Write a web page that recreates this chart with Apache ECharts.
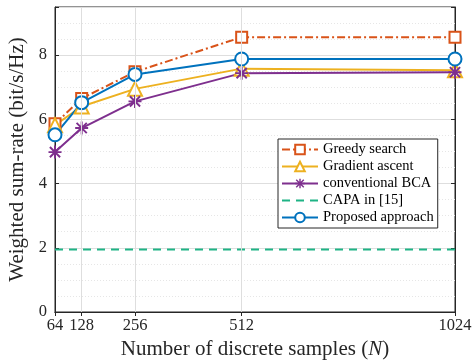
<!DOCTYPE html>
<html>
<head>
<meta charset="utf-8">
<script src="https://cdn.jsdelivr.net/npm/echarts@6/dist/echarts.min.js"></script>
<style>
  html, body { margin: 0; padding: 0; background: #fff; }
  #chart { width: 474px; height: 360px; }
</style>
</head>
<body>
<div id="chart"></div>
<script>
// data
var samples = [64, 128, 256, 512, 1024];
var greedy = [5.86, 6.65, 7.48, 8.56, 8.56];
var gradient = [5.82, 6.4, 6.95, 7.58, 7.53];
var bca = [4.98, 5.73, 6.56, 7.44, 7.47];
var capa = [1.95, 1.95, 1.95, 1.95, 1.95];
var proposed = [5.52, 6.52, 7.4, 7.88, 7.88];
var xTicks = [64, 128, 256, 512, 1024];
var xMajorGrid = [128, 256, 512];
var yTicks = [0, 2, 4, 6, 8];

var font = '"Liberation Serif", "Times New Roman", serif';
var asterisk = 'path://M8.5 0L11.5 0L11.5 20L8.5 20Z M0 8.5L20 8.5L20 11.5L0 11.5Z M3.2 1.1L18.9 16.8L16.8 18.9L1.1 3.2Z M16.8 1.1L18.9 3.2L3.2 18.9L1.1 16.8Z';

function pairs(ys) {
  return samples.map(function (x, i) { return [x, ys[i]]; });
}

var chart = echarts.init(document.getElementById('chart'));
var option = {
  animation: false,
  textStyle: { fontFamily: font },
  grid: {
    left: 55, right: 19, top: 7, bottom: 48, outerBoundsMode: 'none',
    show: true, borderColor: '#262626', borderWidth: 1
  },
  legend: {
    data: ['Greedy search', 'Gradient ascent', 'conventional BCA',
      { name: 'CAPA in [15]', itemStyle: { opacity: 0 } }, 'Proposed approach'],
    orient: 'vertical',
    left: 278, top: 139,
    itemWidth: 36, itemHeight: 12, itemGap: 2,
    padding: [3, 4, 3, 3],
    backgroundColor: '#fff',
    borderColor: '#262626', borderWidth: 1,
    textStyle: { fontFamily: font, fontSize: 14.5, color: '#000', lineHeight: 15 }
  },
  xAxis: [{
    type: 'value', min: 64, max: 1024, interval: 64,
    name: 'Number of discrete samples ({i|N})',
    nameLocation: 'middle', nameGap: 27,
    nameTextStyle: { fontFamily: font, fontSize: 21, color: '#262626', rich: { i: { fontStyle: 'italic', fontFamily: font, fontSize: 21 } } },
    axisLine: { lineStyle: { color: '#262626', width: 1 } },
    axisTick: { show: true, inside: true, length: 4, customValues: xTicks, lineStyle: { color: '#262626' } },
    axisLabel: {
      fontFamily: font, fontSize: 16.5, color: '#262626', margin: 5,
      formatter: function (v) { return xTicks.indexOf(v) >= 0 ? String(v) : ''; }
    },
    splitLine: { show: true, lineStyle: { color: '#e6e6e6', type: [1, 2] } }
  }, {
    type: 'value', min: 64, max: 1024, interval: 64, position: 'top',
    axisLine: { show: true, lineStyle: { color: '#262626', width: 1 } },
    axisTick: { show: true, inside: true, length: 4, customValues: xTicks, lineStyle: { color: '#262626' } },
    axisLabel: { show: false },
    splitLine: { show: false }
  }],
  yAxis: [{
    type: 'value', min: 0, max: 9.5, interval: 2,
    name: 'Weighted sum-rate (bit/s/Hz)',
    nameLocation: 'middle', nameGap: 24,
    nameTextStyle: { fontFamily: font, fontSize: 21, color: '#262626' },
    axisLine: { show: true, lineStyle: { color: '#262626', width: 1 } },
    axisTick: { show: true, inside: true, length: 4, lineStyle: { color: '#262626' } },
    axisLabel: {
      fontFamily: font, fontSize: 16.5, color: '#262626', margin: 8,
      formatter: function (v) { return yTicks.indexOf(v) >= 0 ? String(v) : ''; }
    },
    splitLine: { show: true, lineStyle: { color: '#dedede' } },
    minorTick: { show: false, splitNumber: 4 },
    minorSplitLine: { show: true, lineStyle: { color: '#e6e6e6', type: [1, 2] } }
  }, {
    type: 'value', min: 0, max: 9.5, interval: 2, position: 'right',
    axisLine: { show: true, lineStyle: { color: '#262626', width: 1 } },
    axisTick: { show: true, inside: true, length: 4, lineStyle: { color: '#262626' } },
    axisLabel: { show: false },
    splitLine: { show: false }
  }],
  series: [
    {
      type: 'line', data: [], silent: true, z: 0,
      markLine: {
        silent: true, symbol: 'none', label: { show: false },
        lineStyle: { color: '#dedede', type: 'solid', width: 1 },
        data: xMajorGrid.map(function (v) { return { xAxis: v }; })
      }
    },
    {
      name: 'Greedy search', type: 'line', data: pairs(greedy),
      symbol: 'emptyRect', symbolSize: 11,
      itemStyle: { color: '#D95319', borderWidth: 2 },
      lineStyle: { color: '#D95319', width: 2, type: [8, 3, 2, 3] }
    },
    {
      name: 'Gradient ascent', type: 'line', data: pairs(gradient),
      symbol: 'emptyTriangle', symbolSize: 14,
      itemStyle: { color: '#EDB120', borderWidth: 2 },
      lineStyle: { color: '#EDB120', width: 2 }
    },
    {
      name: 'conventional BCA', type: 'line', data: pairs(bca),
      symbol: asterisk, symbolSize: 13,
      itemStyle: { color: '#7E2F8E' },
      lineStyle: { color: '#7E2F8E', width: 2 }
    },
    {
      name: 'CAPA in [15]', type: 'line', data: pairs(capa),
      symbol: 'none',
      itemStyle: { color: '#1FB385' },
      lineStyle: { color: '#1FB385', width: 2, type: [8, 6] }
    },
    {
      name: 'Proposed approach', type: 'line', data: pairs(proposed),
      symbol: 'emptyCircle', symbolSize: 13,
      itemStyle: { color: '#0072BD', borderWidth: 2 },
      lineStyle: { color: '#0072BD', width: 2 }
    }
  ]
};
chart.setOption(option);
</script>
</body>
</html>
